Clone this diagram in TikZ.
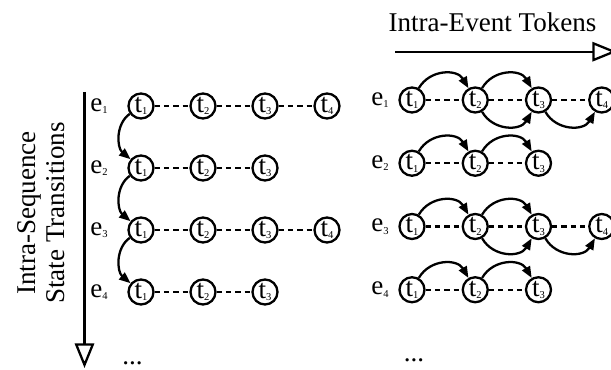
\documentclass[tikz,border=0pt]{standalone}
\usepackage{fontspec}
\setmainfont{Liberation Serif}
\usetikzlibrary{automata,arrows.meta,positioning}

\newcommand{\tk}[1]{t\raisebox{-1.4pt}{\fontsize{6}{6}\selectfont #1}}
\newcommand{\ev}[1]{e\raisebox{-1.4pt}{\fontsize{6}{6}\selectfont #1}}

\begin{document}
\begin{tikzpicture}[>={Triangle[length=6.5pt,width=5pt]}, node distance=1.24cm, line width=1.3pt,
    every node/.style={font=\fontsize{15.4}{16.5}\selectfont},
    every state/.style={minimum size=0.5cm, inner sep=0pt},
    dots/.style={dash pattern=on 3pt off 2.3pt},
    axis/.style={-{Triangle[open,length=14pt,width=11pt]}},
    hop above/.style={out=60, in=120, looseness=1.15},
    hop below/.style={out=-60, in=-120, looseness=1.15},
    hop down/.style={out=215, in=140}]
    \useasboundingbox (0,0) rectangle (12.22,-7.4);

    % left: events linked through their first token
    \node[state] (l1t1) at (2.82,-2.12) {\tk1};
    \node[state] (l1t2) [right of=l1t1] {\tk2};
    \node[state] (l1t3) [right of=l1t2] {\tk3};
    \node[state] (l1t4) [right of=l1t3] {\tk4};
    \node[state] (l2t1) [below of=l1t1] {\tk1};
    \node[state] (l2t2) [right of=l2t1] {\tk2};
    \node[state] (l2t3) [right of=l2t2] {\tk3};
    \node[state] (l3t1) [below of=l2t1] {\tk1};
    \node[state] (l3t2) [right of=l3t1] {\tk2};
    \node[state] (l3t3) [right of=l3t2] {\tk3};
    \node[state] (l3t4) [right of=l3t3] {\tk4};
    \node[state] (l4t1) [below of=l3t1] {\tk1};
    \node[state] (l4t2) [right of=l4t1] {\tk2};
    \node[state] (l4t3) [right of=l4t2] {\tk3};

    \node (l1e) [left of=l1t1, node distance=0.84cm] {\ev1};
    \node (l2e) [left of=l2t1, node distance=0.84cm] {\ev2};
    \node (l3e) [left of=l3t1, node distance=0.84cm] {\ev3};
    \node (l4e) [left of=l4t1, node distance=0.84cm] {\ev4};

    \draw[dots] (l1t1) -- (l1t2) -- (l1t3) -- (l1t4);
    \draw[dots] (l2t1) -- (l2t2) -- (l2t3);
    \draw[dots] (l3t1) -- (l3t2) -- (l3t3) -- (l3t4);
    \draw[dots] (l4t1) -- (l4t2) -- (l4t3);

    \path[->] (l1t1) edge [hop down] (l2t1)
              (l2t1) edge [hop down] (l3t1)
              (l3t1) edge [hop down] (l4t1);

    % right: tokens linked inside each event
    \begin{scope}[node distance=1.265cm]
    \node[state] (r1t1) at (8.24,-2.00) {\tk1};
    \node[state] (r1t2) [right of=r1t1] {\tk2};
    \node[state] (r1t3) [right of=r1t2] {\tk3};
    \node[state] (r1t4) [right of=r1t3] {\tk4};
    \node[state] (r2t1) [below of=r1t1] {\tk1};
    \node[state] (r2t2) [right of=r2t1] {\tk2};
    \node[state] (r2t3) [right of=r2t2] {\tk3};
    \node[state] (r3t1) [below of=r2t1] {\tk1};
    \node[state] (r3t2) [right of=r3t1] {\tk2};
    \node[state] (r3t3) [right of=r3t2] {\tk3};
    \node[state] (r3t4) [right of=r3t3] {\tk4};
    \node[state] (r4t1) [below of=r3t1] {\tk1};
    \node[state] (r4t2) [right of=r4t1] {\tk2};
    \node[state] (r4t3) [right of=r4t2] {\tk3};
    \end{scope}

    \node (r1e) [left of=r1t1, node distance=0.64cm] {\ev1};
    \node (r2e) [left of=r2t1, node distance=0.64cm] {\ev2};
    \node (r3e) [left of=r3t1, node distance=0.64cm] {\ev3};
    \node (r4e) [left of=r4t1, node distance=0.64cm] {\ev4};

    \draw[dots] (r1t1) -- (r1t2) -- (r1t3) -- (r1t4);
    \draw[dots] (r2t1) -- (r2t2) -- (r2t3);
    \draw[dots] (r3t1) -- (r3t2) -- (r3t3) -- (r3t4);
    \draw[dots] (r4t1) -- (r4t2) -- (r4t3);

    \path[->] (r1t1) edge [hop above] (r1t2)
              (r1t2) edge [hop above] (r1t3)
                     edge [hop below] (r1t3)
              (r1t3) edge [hop below] (r1t4)
              (r2t1) edge [hop above] (r2t2)
              (r2t2) edge [hop above] (r2t3)
              (r3t1) edge [hop above] (r3t2)
              (r3t2) edge [hop above] (r3t3)
                     edge [hop below] (r3t3)
              (r3t3) edge [hop below] (r3t4)
              (r4t1) edge [hop above] (r4t2)
              (r4t2) edge [hop above] (r4t3);

    % axes and their labels
    \coordinate (seqtop) at (1.69,-1.84);
    \coordinate (seqend) at (1.69,-7.36);
    \coordinate (tokstart) at (7.90,-1.034);
    \coordinate (tokend) at (12.34,-1.034);
    \draw[axis] (seqtop) -- (seqend);
    \draw[axis] (tokstart) -- (tokend);

    \node[rotate=90, align=center] (seqlabel) at (0.82,-4.26) {Intra-Sequence\\State Transitions};
    \node (toklabel) at (9.85,-0.44) {Intra-Event Tokens};
    \node (ldots) at (2.65,-7.26) {...};
    \node (rdots) at (8.28,-7.20) {...};
\end{tikzpicture}
\end{document}
